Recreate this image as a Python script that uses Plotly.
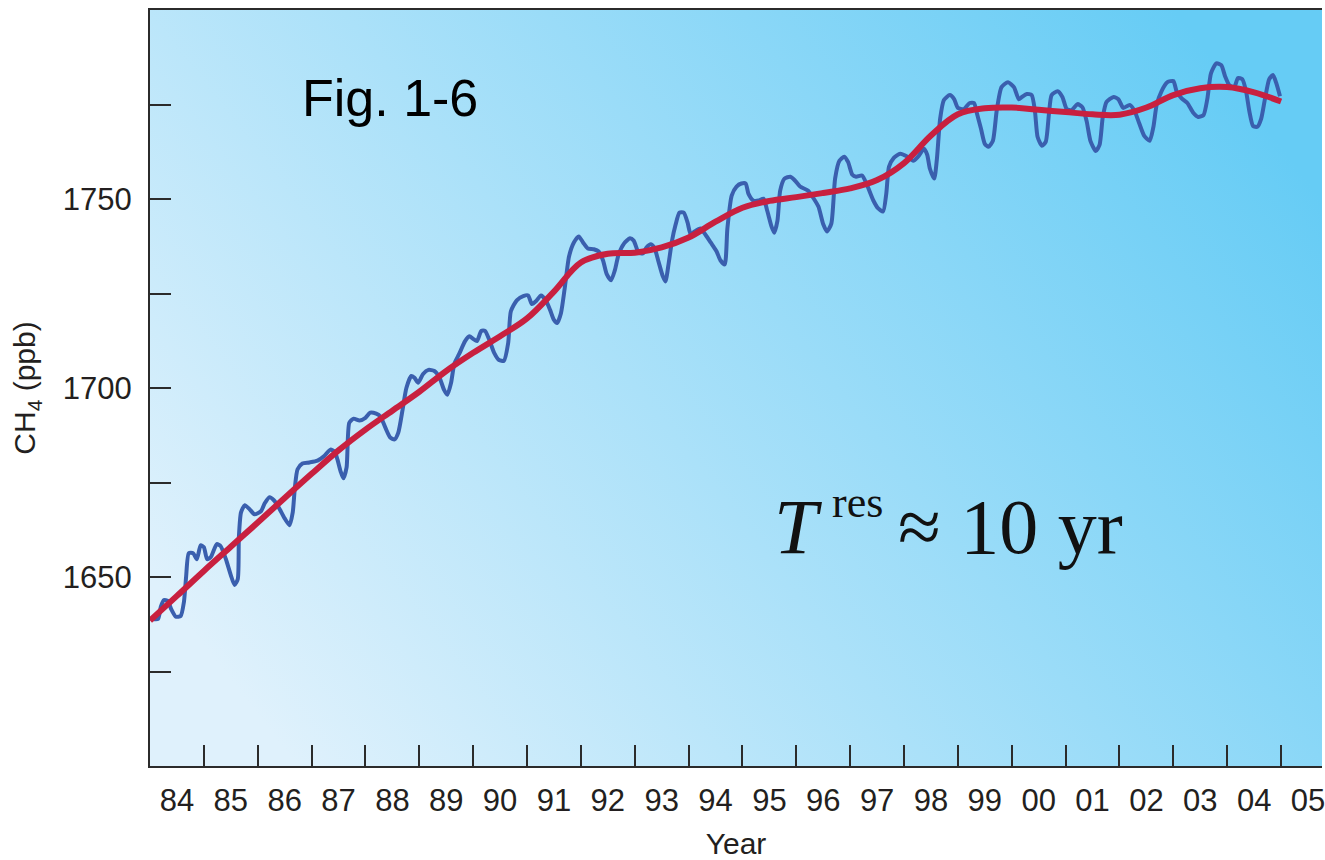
import base64
import plotly.graph_objects as go

# ---- data ----
blue_year = [1984.04, 1984.15, 1984.20, 1984.26, 1984.33, 1984.39, 1984.48, 1984.57, 1984.63, 1984.67,
             1984.72, 1984.80, 1984.87, 1984.94, 1985.00, 1985.06, 1985.13, 1985.24, 1985.31, 1985.41,
             1985.50, 1985.57, 1985.63, 1985.65, 1985.69, 1985.76, 1985.85, 1985.94, 1986.06, 1986.13,
             1986.22, 1986.30, 1986.39, 1986.50, 1986.59, 1986.65, 1986.69, 1986.74, 1986.83, 1986.96,
             1987.11, 1987.24, 1987.35, 1987.43, 1987.48, 1987.54, 1987.59, 1987.65, 1987.70, 1987.78,
             1987.89, 1988.00, 1988.09, 1988.20, 1988.28, 1988.37, 1988.46, 1988.54, 1988.61, 1988.69,
             1988.76, 1988.85, 1988.91, 1988.98, 1989.07, 1989.17, 1989.28, 1989.37, 1989.46, 1989.52,
             1989.59, 1989.65, 1989.74, 1989.85, 1989.93, 1990.00, 1990.07, 1990.15, 1990.22, 1990.30,
             1990.39, 1990.48, 1990.57, 1990.65, 1990.70, 1990.81, 1990.93, 1991.02, 1991.09, 1991.17,
             1991.26, 1991.35, 1991.43, 1991.50, 1991.56, 1991.63, 1991.70, 1991.78, 1991.87, 1991.96,
             1992.04, 1992.13, 1992.24, 1992.33, 1992.41, 1992.48, 1992.56, 1992.63, 1992.70, 1992.80,
             1992.91, 1992.98, 1993.07, 1993.15, 1993.22, 1993.30, 1993.37, 1993.44, 1993.52, 1993.57,
             1993.63, 1993.69, 1993.76, 1993.83, 1993.91, 1993.98, 1994.04, 1994.11, 1994.22, 1994.31,
             1994.41, 1994.52, 1994.59, 1994.67, 1994.72, 1994.80, 1994.89, 1994.98, 1995.06, 1995.11,
             1995.20, 1995.30, 1995.39, 1995.46, 1995.54, 1995.59, 1995.65, 1995.70, 1995.78, 1995.89,
             1995.98, 1996.07, 1996.22, 1996.31, 1996.41, 1996.50, 1996.57, 1996.65, 1996.72, 1996.80,
             1996.89, 1996.96, 1997.04, 1997.11, 1997.22, 1997.31, 1997.43, 1997.52, 1997.61, 1997.67,
             1997.72, 1997.81, 1997.93, 1998.04, 1998.17, 1998.26, 1998.37, 1998.43, 1998.48, 1998.56,
             1998.61, 1998.67, 1998.74, 1998.85, 1998.93, 1999.00, 1999.11, 1999.22, 1999.30, 1999.35,
             1999.43, 1999.50, 1999.57, 1999.65, 1999.72, 1999.81, 1999.93, 2000.04, 2000.13, 2000.19,
             2000.28, 2000.37, 2000.43, 2000.48, 2000.56, 2000.63, 2000.69, 2000.74, 2000.85, 2000.94,
             2001.02, 2001.11, 2001.22, 2001.31, 2001.39, 2001.46, 2001.56, 2001.63, 2001.69, 2001.76,
             2001.89, 2001.98, 2002.07, 2002.19, 2002.28, 2002.37, 2002.46, 2002.56, 2002.63, 2002.69,
             2002.78, 2002.89, 2003.00, 2003.06, 2003.15, 2003.26, 2003.37, 2003.46, 2003.56, 2003.63,
             2003.70, 2003.80, 2003.89, 2003.96, 2004.04, 2004.13, 2004.20, 2004.28, 2004.35, 2004.41,
             2004.48, 2004.56, 2004.63, 2004.70, 2004.78, 2004.85, 2004.91, 2004.98]
blue_ch4 = [1638.9, 1638.9, 1642.1, 1643.9, 1643.7, 1641.6, 1639.5, 1639.7, 1643.4, 1650.0,
            1656.3, 1656.3, 1654.7, 1658.4, 1657.9, 1654.7, 1655.3, 1658.7, 1658.2, 1654.7,
            1650.5, 1647.9, 1649.5, 1660.5, 1667.1, 1669.0, 1667.9, 1666.6, 1667.4, 1669.5,
            1671.1, 1670.3, 1668.4, 1665.5, 1663.7, 1667.1, 1673.7, 1678.5, 1680.0, 1680.3,
            1680.8, 1682.1, 1683.7, 1683.2, 1681.1, 1677.9, 1676.1, 1679.0, 1690.8, 1691.9,
            1691.4, 1692.1, 1693.5, 1693.2, 1692.4, 1689.5, 1686.9, 1686.4, 1688.2, 1694.3,
            1700.0, 1703.2, 1702.7, 1701.4, 1703.7, 1704.8, 1704.5, 1702.9, 1699.5, 1698.2,
            1701.4, 1706.4, 1709.0, 1712.4, 1713.7, 1713.0, 1712.4, 1715.1, 1715.1, 1712.7,
            1709.3, 1707.4, 1707.2, 1711.9, 1720.3, 1723.2, 1724.3, 1724.5, 1722.2, 1723.0,
            1724.5, 1723.2, 1720.6, 1718.0, 1717.2, 1719.8, 1726.4, 1734.8, 1738.5, 1740.1,
            1738.5, 1736.9, 1736.7, 1736.1, 1733.8, 1730.1, 1728.5, 1731.1, 1735.3, 1738.2,
            1739.6, 1739.0, 1735.9, 1735.6, 1737.2, 1738.0, 1736.9, 1733.5, 1729.6, 1728.2,
            1733.0, 1738.8, 1743.3, 1746.4, 1746.4, 1743.8, 1740.6, 1741.4, 1742.2, 1740.6,
            1738.5, 1736.1, 1733.8, 1732.7, 1742.2, 1750.9, 1753.3, 1754.1, 1754.1, 1751.4,
            1749.6, 1749.6, 1750.1, 1746.9, 1742.7, 1741.1, 1744.3, 1752.2, 1755.4, 1755.9,
            1754.8, 1753.3, 1752.2, 1750.4, 1748.0, 1743.3, 1741.4, 1743.5, 1755.4, 1760.1,
            1761.2, 1759.8, 1756.4, 1755.9, 1756.2, 1753.8, 1749.6, 1747.5, 1746.7, 1751.4,
            1758.5, 1760.9, 1762.0, 1761.4, 1760.1, 1761.2, 1763.3, 1761.7, 1758.0, 1755.4,
            1760.6, 1771.2, 1776.2, 1777.5, 1776.4, 1774.1, 1773.8, 1775.4, 1775.4, 1772.8,
            1768.5, 1764.6, 1763.8, 1765.4, 1773.3, 1779.6, 1780.9, 1779.6, 1776.4, 1777.0,
            1777.8, 1777.5, 1773.3, 1766.4, 1764.1, 1765.1, 1772.5, 1777.5, 1778.5, 1777.0,
            1773.8, 1773.5, 1775.1, 1774.3, 1770.6, 1765.4, 1762.7, 1764.3, 1771.7, 1775.7,
            1777.0, 1776.4, 1774.1, 1774.9, 1773.3, 1769.9, 1766.7, 1765.4, 1769.1, 1774.9,
            1778.5, 1780.9, 1781.2, 1778.5, 1776.7, 1775.4, 1772.8, 1771.7, 1772.2, 1776.4,
            1783.3, 1785.9, 1785.4, 1782.5, 1780.1, 1779.6, 1782.0, 1781.7, 1778.5, 1773.3,
            1769.3, 1769.1, 1771.2, 1776.4, 1781.7, 1782.8, 1780.7, 1777.2]

trend_year = [1984.0, 1984.5, 1985.0, 1985.5, 1986.0, 1986.5, 1987.0, 1987.5, 1988.0, 1988.5,
              1989.0, 1989.5, 1990.0, 1990.5, 1991.0, 1991.5, 1992.0, 1992.5, 1993.0, 1993.5,
              1994.0, 1994.5, 1995.0, 1995.5, 1996.0, 1996.5, 1997.0, 1997.5, 1998.0, 1998.5,
              1999.0, 1999.5, 2000.0, 2000.5, 2001.0, 2001.5, 2002.0, 2002.5, 2003.0, 2003.5,
              2004.0, 2004.5, 2005.0]
trend_ch4 = [1638.5, 1645.0, 1651.6, 1658.0, 1664.4, 1670.9, 1677.3, 1683.5, 1689.0, 1694.0,
             1699.0, 1704.5, 1709.3, 1713.7, 1718.4, 1725.5, 1733.2, 1735.5, 1735.8, 1737.2,
             1739.8, 1744.0, 1747.7, 1749.5, 1750.5, 1751.6, 1752.8, 1755.0, 1759.5, 1766.8,
             1772.4, 1774.0, 1774.2, 1773.6, 1773.0, 1772.4, 1772.3, 1774.2, 1777.5, 1779.3,
             1779.6, 1778.2, 1775.8]

year_label_pos = [1984.5 + i for i in range(22)]
year_labels = ["84", "85", "86", "87", "88", "89", "90", "91", "92", "93", "94",
               "95", "96", "97", "98", "99", "00", "01", "02", "03", "04", "05"]
year_ticks = [1985 + i for i in range(21)]
y_major = [1650, 1700, 1750]
y_major_text = ["1650", "1700", "1750"]
y_minor = [1625, 1675, 1725, 1775]

# ---- background gradient ----
svg = ('<svg xmlns="http://www.w3.org/2000/svg" width="1175" height="759" viewBox="0 0 1175 759" '
       'preserveAspectRatio="none"><defs><linearGradient id="g" x1="0" y1="0.75" x2="1" y2="0.25">'
       '<stop offset="0" stop-color="#dff1fc"/><stop offset="1" stop-color="#66ccf5"/>'
       '</linearGradient></defs><rect width="1175" height="759" fill="url(#g)"/></svg>')
bg_src = "data:image/svg+xml;base64," + base64.b64encode(svg.encode()).decode()

AX = "#2b2b2b"
SANS = "Liberation Sans, Arial, sans-serif"
SERIF = "Liberation Serif, Times New Roman, serif"

fig = go.Figure()
fig.add_trace(go.Scatter(x=blue_year, y=blue_ch4, mode="lines",
                         line=dict(color="#3a5fae", width=4, shape="spline", smoothing=0.6),
                         hoverinfo="skip", showlegend=False))
fig.add_trace(go.Scatter(x=trend_year, y=trend_ch4, mode="lines",
                         line=dict(color="#c8203f", width=6, shape="spline", smoothing=1.0),
                         hoverinfo="skip", showlegend=False))

fig.update_layout(
    width=1325, height=860,
    margin=dict(l=150, r=0, t=10, b=91),
    paper_bgcolor="white", plot_bgcolor="rgba(0,0,0,0)",
    images=[dict(source=bg_src, xref="paper", yref="paper", x=0, y=1, sizex=1, sizey=1,
                 xanchor="left", yanchor="top", sizing="stretch", layer="below")],
    font=dict(family=SANS, color="#231f20"),
    hovermode=False,
    xaxis=dict(range=[1984, 2005.76], showgrid=False, zeroline=False,
               showline=True, linecolor=AX, linewidth=2, mirror=True,
               tickvals=year_label_pos, ticktext=year_labels, ticks="",
               tickfont=dict(size=31, family=SANS), ticklabelstandoff=6,
               ticklabeloverflow="allow",
               minor=dict(tickvals=year_ticks, ticks="inside", ticklen=21, tickwidth=2,
                          tickcolor=AX, showgrid=False),
               title=dict(text="Year", font=dict(size=30, family=SANS), standoff=21)),
    yaxis=dict(range=[1600, 1800], showgrid=False, zeroline=False,
               showline=True, linecolor=AX, linewidth=2, mirror=False,
               tickvals=y_major, ticktext=y_major_text, ticks="inside", ticklen=21,
               tickwidth=2, tickcolor=AX, tickfont=dict(size=31, family=SANS),
               ticklabelstandoff=10,
               minor=dict(tickvals=y_minor, ticks="inside", ticklen=21, tickwidth=2,
                          tickcolor=AX, showgrid=False),
               title=dict(text="CH<sub>4</sub> (ppb)", font=dict(size=30, family=SANS), standoff=18)),
    annotations=[
        dict(text="Fig. 1-6", xref="paper", yref="paper", x=0.128, y=0.884,
             xanchor="left", yanchor="middle", showarrow=False,
             font=dict(size=52, family=SANS, color="#000000")),
        dict(text="<i>T</i>", xref="paper", yref="paper", x=0.531, y=0.317,
             xanchor="left", yanchor="middle", showarrow=False,
             font=dict(size=78, family=SERIF, color="#111111")),
        dict(text="res", xref="paper", yref="paper", x=0.580, y=0.348,
             xanchor="left", yanchor="middle", showarrow=False,
             font=dict(size=44, family=SERIF, color="#111111")),
        dict(text="≈ 10 yr", xref="paper", yref="paper", x=0.6365, y=0.317,
             xanchor="left", yanchor="middle", showarrow=False,
             font=dict(size=78, family=SERIF, color="#111111")),
    ],
)

# remove the page's default 8px body margin so the 1325x860 figure fills the window exactly
fig.write_html("out.html",
               config={"displayModeBar": False},
               post_script="document.body.style.margin='0';document.body.style.overflow='hidden';")
